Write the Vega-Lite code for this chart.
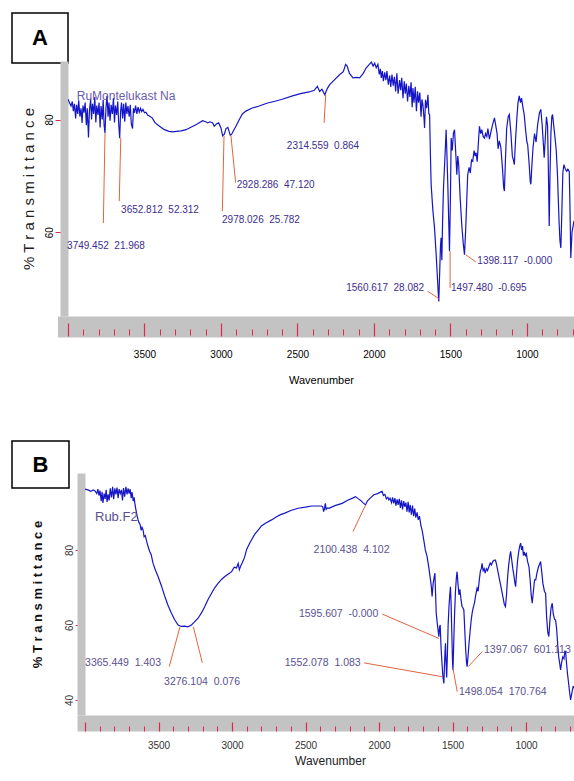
{
"$schema": "https://vega.github.io/schema/vega-lite/v6.json",
"background": "white",
"padding": {"left": 11, "top": 12, "right": 0, "bottom": 0},
"config": {"view": {"stroke": null}, "font": "Liberation Sans, Arial, sans-serif"},
"concat": [
{
"concat": [
{"width": 56, "height": 50, "view": {"stroke": "black", "strokeWidth": 1.5},
 "data": {"values": [{"panel": "A"}]},
 "mark": {"type": "text", "fontSize": 22, "fontWeight": "bold", "color": "black", "baseline": "middle", "align": "center"},
 "encoding": {"text": {"field": "panel"}}},
{"hconcat": [
{"width": 1, "height": 12, "data": {"values": [{"t": ""}]}, "mark": {"type": "text"}, "encoding": {"text": {"field": "t"}}},
{"width": 506, "height": 255,
 "resolve": {"axis": {"x": "independent", "y": "independent"}},
 "layer": [
 {"data": {"values": [
{"wn":4000,"T":83.6},{"wn":3990,"T":83.0},{"wn":3980,"T":82.4},{"wn":3972,"T":83.2},{"wn":3965,"T":81.5},{"wn":3958,"T":82.8},{"wn":3950,"T":80.2},{"wn":3944,"T":82.6},{"wn":3936,"T":81.0},{"wn":3930,"T":83.4},{"wn":3922,"T":80.5},{"wn":3915,"T":82.0},{"wn":3908,"T":79.4},{"wn":3902,"T":82.5},{"wn":3895,"T":81.2},{"wn":3888,"T":83.0},{"wn":3880,"T":79.0},{"wn":3874,"T":82.0},{"wn":3866,"T":76.8},{"wn":3860,"T":81.5},{"wn":3852,"T":83.6},{"wn":3846,"T":80.0},{"wn":3840,"T":82.8},{"wn":3832,"T":81.0},{"wn":3825,"T":84.0},{"wn":3818,"T":79.5},{"wn":3812,"T":82.5},{"wn":3804,"T":80.8},{"wn":3797,"T":83.0},{"wn":3790,"T":78.6},{"wn":3784,"T":82.4},{"wn":3776,"T":80.0},{"wn":3770,"T":83.5},{"wn":3764,"T":79.0},{"wn":3758,"T":77.6},{"wn":3752,"T":82.0},{"wn":3745,"T":84.2},{"wn":3738,"T":80.5},{"wn":3732,"T":83.0},{"wn":3725,"T":79.8},{"wn":3718,"T":82.6},{"wn":3710,"T":81.0},{"wn":3703,"T":83.8},{"wn":3696,"T":79.5},{"wn":3690,"T":82.5},{"wn":3682,"T":80.8},{"wn":3675,"T":83.2},{"wn":3668,"T":79.0},{"wn":3662,"T":76.7},{"wn":3656,"T":81.5},{"wn":3650,"T":83.0},{"wn":3643,"T":80.2},{"wn":3636,"T":82.8},{"wn":3629,"T":79.6},{"wn":3622,"T":83.0},{"wn":3615,"T":81.0},{"wn":3608,"T":82.4},{"wn":3600,"T":80.5},{"wn":3593,"T":82.6},{"wn":3586,"T":79.2},{"wn":3578,"T":78.4},{"wn":3572,"T":82.0},{"wn":3565,"T":81.2},{"wn":3558,"T":82.5},{"wn":3550,"T":81.0},{"wn":3542,"T":82.2},{"wn":3534,"T":81.3},{"wn":3526,"T":82.0},{"wn":3518,"T":81.4},{"wn":3510,"T":81.8},{"wn":3500,"T":81.2},{"wn":3490,"T":81.3},{"wn":3480,"T":80.8},{"wn":3466,"T":80.6},{"wn":3450,"T":80.3},{"wn":3430,"T":79.4},{"wn":3402,"T":78.8},{"wn":3370,"T":78.2},{"wn":3340,"T":77.9},{"wn":3315,"T":77.8},{"wn":3290,"T":77.9},{"wn":3260,"T":78.0},{"wn":3228,"T":78.2},{"wn":3200,"T":78.6},{"wn":3170,"T":79.0},{"wn":3150,"T":79.3},{"wn":3120,"T":79.8},{"wn":3100,"T":79.6},{"wn":3087,"T":79.4},{"wn":3070,"T":79.6},{"wn":3054,"T":79.4},{"wn":3044,"T":78.8},{"wn":3030,"T":79.2},{"wn":3015,"T":79.4},{"wn":3000,"T":78.5},{"wn":2989,"T":77.1},{"wn":2978,"T":77.4},{"wn":2967,"T":78.4},{"wn":2955,"T":78.6},{"wn":2939,"T":77.2},{"wn":2930,"T":77.4},{"wn":2915,"T":78.2},{"wn":2902,"T":78.8},{"wn":2880,"T":80.0},{"wn":2860,"T":81.0},{"wn":2837,"T":81.5},{"wn":2800,"T":82.0},{"wn":2750,"T":82.4},{"wn":2700,"T":82.9},{"wn":2641,"T":83.3},{"wn":2600,"T":83.6},{"wn":2532,"T":84.2},{"wn":2480,"T":84.6},{"wn":2424,"T":84.9},{"wn":2390,"T":85.2},{"wn":2370,"T":85.9},{"wn":2355,"T":85.0},{"wn":2340,"T":85.4},{"wn":2321,"T":84.4},{"wn":2305,"T":85.5},{"wn":2289,"T":86.2},{"wn":2260,"T":87.0},{"wn":2223,"T":88.0},{"wn":2200,"T":88.5},{"wn":2185,"T":89.8},{"wn":2175,"T":89.5},{"wn":2160,"T":88.2},{"wn":2137,"T":87.4},{"wn":2110,"T":87.5},{"wn":2093,"T":87.4},{"wn":2070,"T":88.2},{"wn":2050,"T":89.2},{"wn":2030,"T":89.8},{"wn":2017,"T":90.2},{"wn":2005,"T":89.5},{"wn":1995,"T":90.0},{"wn":1985,"T":89.2},{"wn":1974,"T":89.8},{"wn":1965,"T":88.0},{"wn":1958,"T":89.0},{"wn":1952,"T":87.4},{"wn":1945,"T":88.6},{"wn":1938,"T":86.8},{"wn":1930,"T":88.4},{"wn":1922,"T":87.0},{"wn":1915,"T":88.6},{"wn":1906,"T":86.2},{"wn":1897,"T":87.8},{"wn":1890,"T":85.8},{"wn":1882,"T":88.0},{"wn":1874,"T":86.0},{"wn":1866,"T":87.6},{"wn":1858,"T":85.0},{"wn":1850,"T":88.2},{"wn":1842,"T":84.6},{"wn":1832,"T":87.0},{"wn":1825,"T":85.2},{"wn":1818,"T":87.4},{"wn":1810,"T":83.8},{"wn":1802,"T":86.8},{"wn":1795,"T":84.6},{"wn":1788,"T":86.4},{"wn":1780,"T":83.2},{"wn":1772,"T":86.0},{"wn":1765,"T":84.0},{"wn":1757,"T":86.6},{"wn":1750,"T":82.2},{"wn":1745,"T":85.6},{"wn":1738,"T":83.0},{"wn":1730,"T":85.8},{"wn":1722,"T":81.5},{"wn":1715,"T":85.0},{"wn":1708,"T":83.0},{"wn":1700,"T":84.8},{"wn":1692,"T":80.5},{"wn":1686,"T":83.6},{"wn":1680,"T":82.7},{"wn":1672,"T":80.0},{"wn":1669,"T":78.5},{"wn":1663,"T":83.5},{"wn":1655,"T":82.0},{"wn":1647,"T":84.4},{"wn":1641,"T":81.0},{"wn":1636,"T":80.9},{"wn":1631,"T":74.0},{"wn":1626,"T":68.5},{"wn":1615,"T":64.0},{"wn":1604,"T":60.8},{"wn":1593,"T":56.0},{"wn":1585,"T":52.0},{"wn":1580,"T":49.5},{"wn":1576,"T":47.7},{"wn":1570,"T":53.0},{"wn":1565,"T":57.5},{"wn":1561,"T":59.0},{"wn":1556,"T":55.0},{"wn":1551,"T":62.0},{"wn":1545,"T":68.0},{"wn":1539,"T":71.4},{"wn":1533,"T":75.0},{"wn":1528,"T":78.2},{"wn":1523,"T":74.0},{"wn":1517,"T":68.5},{"wn":1511,"T":62.0},{"wn":1506,"T":56.6},{"wn":1500,"T":66.0},{"wn":1495,"T":76.7},{"wn":1488,"T":74.5},{"wn":1480,"T":77.6},{"wn":1473,"T":78.2},{"wn":1465,"T":74.0},{"wn":1458,"T":70.2},{"wn":1452,"T":73.5},{"wn":1446,"T":72.0},{"wn":1436,"T":66.0},{"wn":1425,"T":61.0},{"wn":1416,"T":58.0},{"wn":1408,"T":56.0},{"wn":1400,"T":60.5},{"wn":1394,"T":65.0},{"wn":1387,"T":70.2},{"wn":1378,"T":71.5},{"wn":1370,"T":70.5},{"wn":1362,"T":72.8},{"wn":1354,"T":72.6},{"wn":1345,"T":74.5},{"wn":1338,"T":73.5},{"wn":1332,"T":74.1},{"wn":1325,"T":72.5},{"wn":1318,"T":75.5},{"wn":1310,"T":78.8},{"wn":1302,"T":77.5},{"wn":1295,"T":78.2},{"wn":1286,"T":77.0},{"wn":1278,"T":76.7},{"wn":1270,"T":77.5},{"wn":1262,"T":77.0},{"wn":1255,"T":78.4},{"wn":1245,"T":76.5},{"wn":1235,"T":77.8},{"wn":1225,"T":79.0},{"wn":1212,"T":80.3},{"wn":1205,"T":79.2},{"wn":1195,"T":77.5},{"wn":1188,"T":74.8},{"wn":1180,"T":76.2},{"wn":1170,"T":75.0},{"wn":1160,"T":71.5},{"wn":1152,"T":68.0},{"wn":1147,"T":67.3},{"wn":1140,"T":73.0},{"wn":1132,"T":78.5},{"wn":1122,"T":80.5},{"wn":1115,"T":80.9},{"wn":1105,"T":77.8},{"wn":1095,"T":73.5},{"wn":1088,"T":72.8},{"wn":1082,"T":72.0},{"wn":1075,"T":76.0},{"wn":1065,"T":80.5},{"wn":1058,"T":83.0},{"wn":1050,"T":84.2},{"wn":1042,"T":83.0},{"wn":1035,"T":83.8},{"wn":1025,"T":82.0},{"wn":1018,"T":81.0},{"wn":1008,"T":78.0},{"wn":1000,"T":76.0},{"wn":995,"T":75.6},{"wn":985,"T":72.0},{"wn":978,"T":69.0},{"wn":974,"T":68.5},{"wn":968,"T":71.5},{"wn":960,"T":75.0},{"wn":950,"T":77.5},{"wn":940,"T":76.0},{"wn":930,"T":79.0},{"wn":918,"T":81.2},{"wn":909,"T":81.8},{"wn":900,"T":79.0},{"wn":893,"T":76.0},{"wn":887,"T":73.2},{"wn":880,"T":76.5},{"wn":872,"T":80.5},{"wn":865,"T":79.0},{"wn":860,"T":72.0},{"wn":854,"T":61.1},{"wn":849,"T":70.0},{"wn":843,"T":77.5},{"wn":837,"T":80.5},{"wn":832,"T":80.9},{"wn":825,"T":79.0},{"wn":815,"T":76.5},{"wn":808,"T":74.5},{"wn":800,"T":70.2},{"wn":795,"T":66.0},{"wn":789,"T":61.5},{"wn":784,"T":58.5},{"wn":778,"T":57.2},{"wn":772,"T":63.0},{"wn":765,"T":70.5},{"wn":758,"T":72.0},{"wn":750,"T":71.3},{"wn":740,"T":70.8},{"wn":732,"T":71.2},{"wn":723,"T":70.8},{"wn":718,"T":64.0},{"wn":713,"T":55.4},{"wn":705,"T":60.0},{"wn":692,"T":62.0}
  ]},
  "mark": {"type": "line", "color": "#1515c8", "strokeWidth": 1.2, "clip": true},
  "encoding": {
   "x": {"field": "wn", "type": "quantitative", "scale": {"domain": [4000, 692], "nice": false, "zero": false},
    "axis": {"orient": "bottom", "offset": 10.5, "domainColor": "#c3c3c3", "domainWidth": 21, "domainCap": "square", "ticks": false, "labels": false, "title": null, "grid": false}},
   "y": {"field": "T", "type": "quantitative", "scale": {"domain": [45.1, 90.4], "nice": false, "zero": false},
    "axis": {"orient": "left", "offset": 4, "domainColor": "#c3c3c3", "domainWidth": 8, "domainCap": "butt", "grid": false, "values": [60, 80], "tickColor": "#e0284f", "tickSize": 9, "labelAngle": -90, "labelFontSize": 10, "labelColor": "black", "labelPadding": 1, "title": "% T r a n s m i t t a n c e", "titleFontSize": 15, "titleFontWeight": "normal", "titleColor": "#222222", "titlePadding": 8}}
  }},
 {"data": {"values": [
{"wn":3758,"T":77.6,"wn2":3769,"T2":61.6},
{"wn":3655,"T":76.7,"wn2":3665,"T2":65.5},
{"wn":2980,"T":77.1,"wn2":2991,"T2":63.7},
{"wn":2935,"T":77.2,"wn2":2904,"T2":68.8},
{"wn":2315,"T":84.4,"wn2":2326,"T2":79.4},
{"wn":1576,"T":48.2,"wn2":1649,"T2":49.5},
{"wn":1502,"T":56.6,"wn2":1502,"T2":50.1},
{"wn":1400,"T":56.0,"wn2":1334,"T2":54.7}
  ]},
  "mark": {"type": "rule", "color": "#e0653f", "strokeWidth": 1},
  "encoding": {
   "x": {"field": "wn", "type": "quantitative", "scale": {"domain": [4000, 692], "nice": false, "zero": false},
    "axis": {"orient": "bottom", "offset": 7, "domain": false, "grid": false, "values": [4000, 3500, 3000, 2500, 2000, 1500, 1000], "format": "d", "labelExpr": "datum.value == 4000 ? '' : datum.label", "tickColor": "#e0284f", "tickSize": 13, "tickWidth": 1.2, "labelFontSize": 10, "labelColor": "black", "labelPadding": 13, "labelFlush": false, "title": "Wavenumber", "titleFontSize": 11, "titleFontWeight": "normal", "titleColor": "black", "titlePadding": 15}},
   "x2": {"field": "wn2"},
   "y": {"field": "T", "type": "quantitative", "scale": {"domain": [45.1, 90.4], "nice": false, "zero": false},
    "axis": {"orient": "left", "offset": 54.5, "domain": true, "domainColor": "transparent", "ticks": false, "labels": false, "title": null, "grid": false}},
   "y2": {"field": "T2"}
  }},
 {"data": {"values": [
{"wn":4006,"T":57.5,"label":"3749.452\u00a0 21.968"},
{"wn":3653,"T":64.0,"label":"3652.812\u00a0 52.312"},
{"wn":2993,"T":62.2,"label":"2978.026\u00a0 25.782"},
{"wn":2897,"T":68.4,"label":"2928.286\u00a0 47.120"},
{"wn":1496,"T":50.1,"label":"1497.480\u00a0 -0.695"},
{"wn":1324,"T":54.8,"label":"1398.117\u00a0 -0.000"}
  ]},
  "mark": {"type": "text", "align": "left", "baseline": "middle", "fontSize": 10, "color": "#3c2e8e"},
  "encoding": {
   "x": {"field": "wn", "type": "quantitative", "scale": {"domain": [4000, 692], "nice": false, "zero": false},
    "axis": {"orient": "bottom", "offset": 13, "domain": false, "grid": false, "labels": false, "title": null, "tickColor": "#e0284f", "tickSize": 6, "values": [3900,3800,3700,3600,3400,3300,3200,3100,2900,2800,2700,2600,2400,2300,2200,2100,1900,1800,1700,1600,1400,1300,1200,1100,900,800,700]}},
   "y": {"field": "T", "type": "quantitative", "scale": {"domain": [45.1, 90.4], "nice": false, "zero": false}, "axis": null},
   "text": {"field": "label"}
  }},
 {"data": {"values": [
{"wn":1672,"T":50.1,"label":"1560.617\u00a0 28.082"}
  ]},
  "mark": {"type": "text", "align": "right", "baseline": "middle", "fontSize": 10, "color": "#3c2e8e"},
  "encoding": {
   "x": {"field": "wn", "type": "quantitative", "scale": {"domain": [4000, 692], "nice": false, "zero": false}, "axis": null},
   "y": {"field": "T", "type": "quantitative", "scale": {"domain": [45.1, 90.4], "nice": false, "zero": false}, "axis": null},
   "text": {"field": "label"}
  }},
 {"data": {"values": [
{"wn":2333,"T":75.3,"label":"2314.559\u00a0 0.864"}
  ]},
  "mark": {"type": "text", "align": "center", "baseline": "middle", "fontSize": 10, "color": "#3c2e8e"},
  "encoding": {
   "x": {"field": "wn", "type": "quantitative", "scale": {"domain": [4000, 692], "nice": false, "zero": false}, "axis": null},
   "y": {"field": "T", "type": "quantitative", "scale": {"domain": [45.1, 90.4], "nice": false, "zero": false}, "axis": null},
   "text": {"field": "label"}
  }},
 {"data": {"values": [
{"wn":3943,"T":84.1,"label":"RuMontelukast Na"}
  ]},
  "mark": {"type": "text", "align": "left", "baseline": "middle", "fontSize": 12, "color": "#5040a0", "opacity": 0.85},
  "encoding": {
   "x": {"field": "wn", "type": "quantitative", "scale": {"domain": [4000, 692], "nice": false, "zero": false}, "axis": null},
   "y": {"field": "T", "type": "quantitative", "scale": {"domain": [45.1, 90.4], "nice": false, "zero": false}, "axis": null},
   "text": {"field": "label"}
  }}
 ]}
], "spacing": 0}
],
"columns": 1, "align": "none", "spacing": -3
},
{
"concat": [
{"width": 57, "height": 47, "view": {"stroke": "black", "strokeWidth": 1.5},
 "data": {"values": [{"panel": "B"}]},
 "mark": {"type": "text", "fontSize": 22, "fontWeight": "bold", "color": "black", "baseline": "middle", "align": "center"},
 "encoding": {"text": {"field": "panel"}}},
{"hconcat": [
{"width": 1, "height": 12, "data": {"values": [{"t": ""}]}, "mark": {"type": "text"}, "encoding": {"text": {"field": "t"}}},
{"width": 490, "height": 242,
 "resolve": {"axis": {"x": "independent", "y": "independent"}},
 "layer": [
 {"data": {"values": [
{"wn":4000,"T":96.2},{"wn":3980,"T":96.0},{"wn":3960,"T":95.6},{"wn":3945,"T":96.0},{"wn":3933,"T":95.8},{"wn":3920,"T":95.0},{"wn":3912,"T":96.2},{"wn":3905,"T":94.5},{"wn":3898,"T":95.8},{"wn":3890,"T":93.0},{"wn":3884,"T":95.5},{"wn":3878,"T":92.5},{"wn":3870,"T":95.0},{"wn":3863,"T":93.6},{"wn":3856,"T":96.0},{"wn":3850,"T":92.8},{"wn":3843,"T":94.8},{"wn":3836,"T":93.2},{"wn":3828,"T":96.4},{"wn":3820,"T":94.0},{"wn":3812,"T":96.8},{"wn":3805,"T":93.5},{"wn":3797,"T":96.4},{"wn":3790,"T":94.8},{"wn":3782,"T":96.6},{"wn":3775,"T":93.8},{"wn":3768,"T":96.2},{"wn":3760,"T":95.0},{"wn":3752,"T":96.0},{"wn":3745,"T":93.2},{"wn":3738,"T":96.5},{"wn":3730,"T":94.2},{"wn":3722,"T":96.8},{"wn":3714,"T":94.8},{"wn":3707,"T":96.4},{"wn":3700,"T":95.0},{"wn":3693,"T":96.2},{"wn":3686,"T":93.8},{"wn":3680,"T":95.4},{"wn":3672,"T":93.0},{"wn":3666,"T":94.0},{"wn":3661,"T":92.4},{"wn":3655,"T":91.0},{"wn":3648,"T":89.5},{"wn":3639,"T":88.0},{"wn":3632,"T":87.2},{"wn":3625,"T":86.8},{"wn":3618,"T":85.2},{"wn":3612,"T":86.0},{"wn":3605,"T":85.3},{"wn":3598,"T":83.5},{"wn":3590,"T":83.8},{"wn":3580,"T":82.2},{"wn":3571,"T":80.9},{"wn":3560,"T":79.6},{"wn":3550,"T":78.8},{"wn":3537,"T":76.4},{"wn":3520,"T":74.5},{"wn":3503,"T":72.9},{"wn":3480,"T":70.4},{"wn":3457,"T":67.6},{"wn":3435,"T":65.2},{"wn":3412,"T":63.1},{"wn":3390,"T":61.4},{"wn":3367,"T":60.0},{"wn":3345,"T":59.6},{"wn":3321,"T":59.7},{"wn":3300,"T":59.5},{"wn":3276,"T":60.0},{"wn":3255,"T":60.8},{"wn":3231,"T":61.8},{"wn":3208,"T":63.2},{"wn":3185,"T":64.9},{"wn":3163,"T":66.8},{"wn":3140,"T":68.4},{"wn":3118,"T":69.9},{"wn":3095,"T":71.1},{"wn":3070,"T":72.2},{"wn":3049,"T":72.9},{"wn":3025,"T":73.6},{"wn":3003,"T":74.2},{"wn":2985,"T":75.4},{"wn":2970,"T":75.2},{"wn":2958,"T":76.4},{"wn":2950,"T":74.7},{"wn":2940,"T":75.8},{"wn":2930,"T":76.6},{"wn":2915,"T":78.0},{"wn":2900,"T":80.2},{"wn":2880,"T":81.8},{"wn":2867,"T":82.7},{"wn":2845,"T":84.2},{"wn":2822,"T":85.3},{"wn":2800,"T":86.4},{"wn":2770,"T":87.2},{"wn":2731,"T":88.0},{"wn":2700,"T":88.8},{"wn":2670,"T":89.4},{"wn":2641,"T":89.8},{"wn":2600,"T":90.5},{"wn":2550,"T":91.1},{"wn":2500,"T":91.4},{"wn":2459,"T":91.7},{"wn":2420,"T":91.7},{"wn":2391,"T":91.7},{"wn":2382,"T":91.4},{"wn":2377,"T":90.2},{"wn":2371,"T":91.0},{"wn":2365,"T":92.4},{"wn":2360,"T":90.8},{"wn":2350,"T":91.2},{"wn":2341,"T":91.1},{"wn":2300,"T":91.8},{"wn":2251,"T":92.4},{"wn":2210,"T":93.3},{"wn":2180,"T":93.8},{"wn":2160,"T":94.2},{"wn":2140,"T":93.6},{"wn":2125,"T":93.2},{"wn":2110,"T":92.6},{"wn":2092,"T":92.0},{"wn":2080,"T":93.0},{"wn":2060,"T":93.8},{"wn":2035,"T":94.7},{"wn":2010,"T":95.0},{"wn":1990,"T":95.4},{"wn":1979,"T":95.6},{"wn":1970,"T":94.5},{"wn":1960,"T":94.8},{"wn":1950,"T":93.6},{"wn":1940,"T":94.0},{"wn":1933,"T":93.3},{"wn":1925,"T":93.8},{"wn":1915,"T":92.6},{"wn":1908,"T":94.0},{"wn":1900,"T":92.4},{"wn":1892,"T":93.8},{"wn":1885,"T":91.8},{"wn":1877,"T":93.5},{"wn":1870,"T":92.0},{"wn":1862,"T":93.6},{"wn":1855,"T":91.2},{"wn":1847,"T":93.2},{"wn":1840,"T":90.8},{"wn":1832,"T":93.0},{"wn":1825,"T":91.5},{"wn":1817,"T":92.6},{"wn":1810,"T":90.2},{"wn":1802,"T":92.8},{"wn":1795,"T":90.0},{"wn":1788,"T":92.0},{"wn":1780,"T":89.4},{"wn":1772,"T":91.8},{"wn":1765,"T":89.0},{"wn":1757,"T":91.0},{"wn":1750,"T":88.6},{"wn":1741,"T":90.0},{"wn":1733,"T":88.0},{"wn":1725,"T":89.0},{"wn":1715,"T":86.5},{"wn":1707,"T":85.3},{"wn":1695,"T":82.5},{"wn":1685,"T":80.0},{"wn":1673,"T":78.2},{"wn":1662,"T":75.5},{"wn":1650,"T":72.0},{"wn":1645,"T":70.5},{"wn":1639,"T":67.6},{"wn":1632,"T":71.0},{"wn":1626,"T":72.5},{"wn":1620,"T":73.8},{"wn":1615,"T":68.0},{"wn":1611,"T":63.1},{"wn":1604,"T":60.5},{"wn":1598,"T":58.5},{"wn":1593,"T":56.9},{"wn":1588,"T":59.5},{"wn":1584,"T":60.0},{"wn":1578,"T":54.0},{"wn":1572,"T":50.0},{"wn":1566,"T":46.5},{"wn":1559,"T":44.4},{"wn":1555,"T":49.0},{"wn":1551,"T":53.0},{"wn":1548,"T":55.1},{"wn":1544,"T":50.0},{"wn":1540,"T":46.0},{"wn":1535,"T":52.0},{"wn":1530,"T":60.0},{"wn":1524,"T":65.0},{"wn":1519,"T":68.0},{"wn":1514,"T":70.2},{"wn":1510,"T":66.0},{"wn":1505,"T":58.0},{"wn":1500,"T":50.0},{"wn":1497,"T":48.0},{"wn":1492,"T":55.0},{"wn":1486,"T":63.0},{"wn":1480,"T":69.0},{"wn":1474,"T":72.5},{"wn":1469,"T":74.2},{"wn":1462,"T":70.5},{"wn":1456,"T":68.0},{"wn":1450,"T":69.5},{"wn":1443,"T":67.0},{"wn":1436,"T":65.0},{"wn":1429,"T":64.5},{"wn":1423,"T":64.0},{"wn":1416,"T":58.0},{"wn":1410,"T":53.0},{"wn":1405,"T":50.0},{"wn":1401,"T":48.9},{"wn":1395,"T":51.5},{"wn":1388,"T":55.0},{"wn":1380,"T":58.5},{"wn":1374,"T":61.0},{"wn":1367,"T":63.1},{"wn":1360,"T":64.5},{"wn":1350,"T":66.0},{"wn":1342,"T":68.0},{"wn":1333,"T":69.8},{"wn":1326,"T":69.0},{"wn":1318,"T":72.0},{"wn":1310,"T":74.5},{"wn":1304,"T":75.0},{"wn":1299,"T":76.4},{"wn":1292,"T":74.5},{"wn":1285,"T":75.0},{"wn":1278,"T":73.8},{"wn":1270,"T":75.0},{"wn":1262,"T":74.5},{"wn":1253,"T":75.5},{"wn":1244,"T":76.5},{"wn":1236,"T":76.0},{"wn":1225,"T":77.0},{"wn":1215,"T":77.3},{"wn":1208,"T":77.3},{"wn":1200,"T":76.0},{"wn":1190,"T":74.0},{"wn":1180,"T":72.0},{"wn":1172,"T":70.5},{"wn":1165,"T":69.0},{"wn":1155,"T":67.0},{"wn":1148,"T":65.5},{"wn":1140,"T":64.9},{"wn":1133,"T":68.0},{"wn":1125,"T":73.0},{"wn":1118,"T":76.0},{"wn":1110,"T":78.5},{"wn":1105,"T":79.6},{"wn":1098,"T":77.5},{"wn":1090,"T":75.0},{"wn":1082,"T":73.0},{"wn":1075,"T":71.0},{"wn":1071,"T":70.2},{"wn":1065,"T":73.5},{"wn":1058,"T":77.0},{"wn":1050,"T":79.5},{"wn":1043,"T":81.0},{"wn":1037,"T":81.8},{"wn":1030,"T":80.0},{"wn":1024,"T":81.0},{"wn":1018,"T":78.5},{"wn":1012,"T":79.5},{"wn":1005,"T":78.5},{"wn":998,"T":79.0},{"wn":990,"T":77.0},{"wn":980,"T":75.5},{"wn":972,"T":72.0},{"wn":965,"T":68.0},{"wn":958,"T":65.8},{"wn":950,"T":69.0},{"wn":942,"T":72.0},{"wn":934,"T":72.0},{"wn":925,"T":74.0},{"wn":915,"T":75.5},{"wn":908,"T":76.2},{"wn":901,"T":76.9},{"wn":893,"T":74.0},{"wn":885,"T":71.0},{"wn":875,"T":69.0},{"wn":867,"T":68.4},{"wn":860,"T":62.0},{"wn":852,"T":58.0},{"wn":845,"T":56.9},{"wn":838,"T":61.0},{"wn":830,"T":64.5},{"wn":822,"T":65.8},{"wn":815,"T":63.0},{"wn":806,"T":61.5},{"wn":799,"T":61.3},{"wn":792,"T":59.0},{"wn":785,"T":55.0},{"wn":778,"T":51.5},{"wn":772,"T":50.0},{"wn":765,"T":48.0},{"wn":758,"T":50.0},{"wn":750,"T":51.5},{"wn":742,"T":51.0},{"wn":736,"T":53.0},{"wn":731,"T":52.9},{"wn":725,"T":50.0},{"wn":718,"T":47.0},{"wn":712,"T":45.0},{"wn":705,"T":42.5},{"wn":697,"T":40.0},{"wn":690,"T":41.5},{"wn":680,"T":43.6},{"wn":674,"T":43.6},{"wn":668,"T":42.5}
  ]},
  "mark": {"type": "line", "color": "#1515c8", "strokeWidth": 1.2, "clip": true},
  "encoding": {
   "x": {"field": "wn", "type": "quantitative", "scale": {"domain": [4000, 667], "nice": false, "zero": false},
    "axis": {"orient": "bottom", "offset": 8, "domainColor": "#c3c3c3", "domainWidth": 16, "domainCap": "square", "ticks": false, "labels": false, "title": null, "grid": false}},
   "y": {"field": "T", "type": "quantitative", "scale": {"domain": [36, 100.5], "nice": false, "zero": false},
    "axis": {"orient": "left", "offset": 4, "domainColor": "#c3c3c3", "domainWidth": 8, "domainCap": "butt", "grid": false, "values": [40, 60, 80], "tickColor": "#e0284f", "tickSize": 6, "labelAngle": -90, "labelFontSize": 10, "labelColor": "#333333", "labelPadding": 1, "title": "% T r a n s m i t t a n c e", "titleFontSize": 13, "titleFontWeight": "bold", "titleColor": "#111111", "titlePadding": 20}}
  }},
 {"data": {"values": [
{"wn":3354,"T":59.5,"wn2":3427,"T2":48.9},
{"wn":3263,"T":59.5,"wn2":3202,"T2":49.9},
{"wn":2091,"T":92.0,"wn2":2177,"T2":84.9},
{"wn":1592,"T":56.4,"wn2":1978,"T2":62.9},
{"wn":1570,"T":46.2,"wn2":2102,"T2":49.9},
{"wn":1497,"T":48.4,"wn2":1468,"T2":42.2},
{"wn":1393,"T":48.9,"wn2":1298,"T2":52.9}
  ]},
  "mark": {"type": "rule", "color": "#e0653f", "strokeWidth": 1},
  "encoding": {
   "x": {"field": "wn", "type": "quantitative", "scale": {"domain": [4000, 667], "nice": false, "zero": false},
    "axis": {"orient": "bottom", "offset": 7, "domain": false, "grid": false, "values": [4000, 3500, 3000, 2500, 2000, 1500, 1000], "format": "d", "labelExpr": "datum.value == 4000 ? '' : datum.label", "tickColor": "#e0284f", "tickSize": 9, "tickWidth": 1.2, "labelFontSize": 10, "labelColor": "#333333", "labelPadding": 9, "labelFlush": false, "title": "Wavenumber", "titleFontSize": 12, "titleFontWeight": "normal", "titleColor": "#222222", "titlePadding": 5}},
   "x2": {"field": "wn2"},
   "y": {"field": "T", "type": "quantitative", "scale": {"domain": [36, 100.5], "nice": false, "zero": false},
    "axis": {"orient": "left", "offset": 72, "domain": true, "domainColor": "transparent", "ticks": false, "labels": false, "title": null, "grid": false}},
   "y2": {"field": "T2"}
  }},
 {"data": {"values": [
{"wn":1456,"T":42.2,"label":"1498.054\u00a0 170.764"},
{"wn":1286,"T":53.3,"label":"1397.067\u00a0 601.113"}
  ]},
  "mark": {"type": "text", "align": "left", "baseline": "middle", "fontSize": 10.5, "color": "#5a5290"},
  "encoding": {
   "x": {"field": "wn", "type": "quantitative", "scale": {"domain": [4000, 667], "nice": false, "zero": false},
    "axis": {"orient": "bottom", "offset": 11, "domain": false, "grid": false, "labels": false, "title": null, "tickColor": "#e0284f", "tickSize": 5, "values": [3900,3800,3700,3600,3400,3300,3200,3100,2900,2800,2700,2600,2400,2300,2200,2100,1900,1800,1700,1600,1400,1300,1200,1100,900,800,700]}},
   "y": {"field": "T", "type": "quantitative", "scale": {"domain": [36, 100.5], "nice": false, "zero": false}, "axis": null},
   "text": {"field": "label"}
  }},
 {"data": {"values": [
{"wn":3483,"T":49.9,"label":"3365.449\u00a0 1.403"},
{"wn":2005,"T":62.9,"label":"1595.607\u00a0 -0.000"},
{"wn":2125,"T":49.9,"label":"1552.078\u00a0 1.083"}
  ]},
  "mark": {"type": "text", "align": "right", "baseline": "middle", "fontSize": 10.5, "color": "#5a5290"},
  "encoding": {
   "x": {"field": "wn", "type": "quantitative", "scale": {"domain": [4000, 667], "nice": false, "zero": false}, "axis": null},
   "y": {"field": "T", "type": "quantitative", "scale": {"domain": [36, 100.5], "nice": false, "zero": false}, "axis": null},
   "text": {"field": "label"}
  }},
 {"data": {"values": [
{"wn":3204,"T":44.9,"label":"3276.104\u00a0 0.076"},
{"wn":2187,"T":80.0,"label":"2100.438\u00a0 4.102"}
  ]},
  "mark": {"type": "text", "align": "center", "baseline": "middle", "fontSize": 10.5, "color": "#5a5290"},
  "encoding": {
   "x": {"field": "wn", "type": "quantitative", "scale": {"domain": [4000, 667], "nice": false, "zero": false}, "axis": null},
   "y": {"field": "T", "type": "quantitative", "scale": {"domain": [36, 100.5], "nice": false, "zero": false}, "axis": null},
   "text": {"field": "label"}
  }},
 {"data": {"values": [
{"wn":3932,"T":88.9,"label":"Rub.F2"}
  ]},
  "mark": {"type": "text", "align": "left", "baseline": "middle", "fontSize": 13, "color": "#5a4f95"},
  "encoding": {
   "x": {"field": "wn", "type": "quantitative", "scale": {"domain": [4000, 667], "nice": false, "zero": false}, "axis": null},
   "y": {"field": "T", "type": "quantitative", "scale": {"domain": [36, 100.5], "nice": false, "zero": false}, "axis": null},
   "text": {"field": "label"}
  }}
 ]}
], "spacing": 0}
],
"columns": 1, "align": "none", "spacing": -16
}
],
"columns": 1, "align": "none", "spacing": 55
}
